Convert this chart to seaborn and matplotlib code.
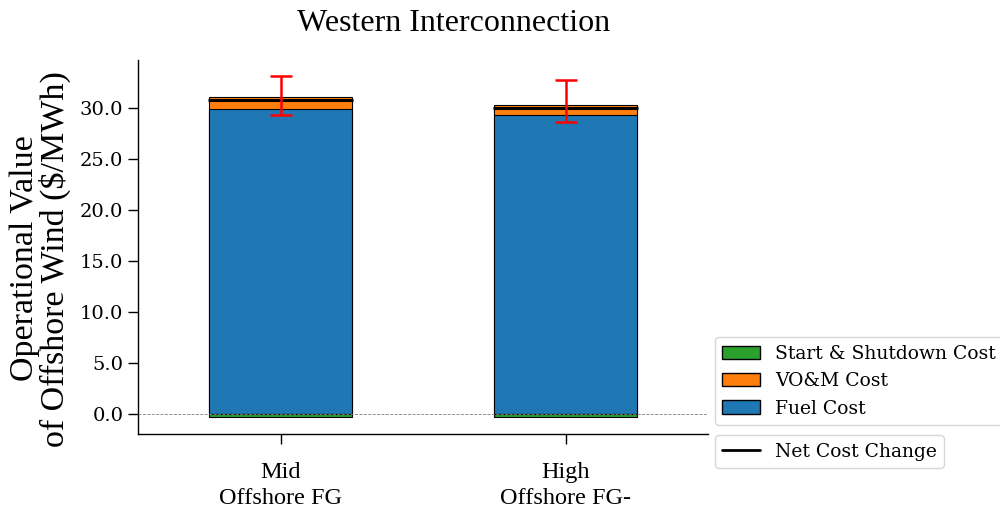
import matplotlib
matplotlib.use("Agg")
import matplotlib.pyplot as plt
import seaborn as sns
import pandas as pd
import numpy as np
from matplotlib.patches import Patch
from matplotlib.lines import Line2D

scenarios = ["Mid\nOffshore FG", "High\nOffshore FG-"]
fuel_cost = [29.9, 29.3]
vom_cost = [1.15, 1.0]
start_shutdown_cost = [-0.3, -0.3]
net_cost = [30.8, 30.0]
err_low = [29.3, 28.65]
err_high = [33.1, 32.7]

sns.set_style("ticks", rc={"text.color": "black", "axes.labelcolor": "black",
                           "xtick.color": "black", "ytick.color": "black",
                           "axes.edgecolor": "black"})
plt.rcParams["font.family"] = ["DejaVu Serif"]

fig = plt.figure(figsize=(10, 5.13), dpi=100)
ax = fig.add_axes([0.138, 0.154, 0.570, 0.729])

df = pd.DataFrame({
    "scenario": scenarios,
    "fuel": fuel_cost,
    "vom": vom_cost,
    "ss": start_shutdown_cost,
    "top": np.array(fuel_cost) + np.array(vom_cost),
})

c_fuel, c_vom, c_ss = "#1f77b4", "#ff7f0e", "#2ca02c"
bar_kw = dict(width=0.5, edgecolor="black", linewidth=0.8, ax=ax, order=scenarios)
sns.barplot(data=df, x="scenario", y="top", color=c_vom, saturation=1, **bar_kw)
sns.barplot(data=df, x="scenario", y="fuel", color=c_fuel, saturation=1, **bar_kw)
sns.barplot(data=df, x="scenario", y="ss", color=c_ss, saturation=1, **bar_kw)

xpos = np.arange(len(scenarios))
ax.hlines(net_cost, xpos - 0.255, xpos + 0.255, colors="black", linewidth=2.2, zorder=5)
mid = (np.array(err_low) + np.array(err_high)) / 2
yerr = [mid - np.array(err_low), np.array(err_high) - mid]
ax.errorbar(xpos, mid, yerr=yerr, fmt="none", ecolor="red", elinewidth=1.8,
            capsize=8, capthick=1.8, zorder=6)

ax.axhline(0, color="grey", linestyle="--", linewidth=0.6, zorder=4)
ax.set_xlim(-0.5, 1.5)
ax.set_ylim(-2, 34.7)
ax.set_yticks([0, 5, 10, 15, 20, 25, 30])
ax.set_yticklabels([f"{v:.1f}" for v in [0, 5, 10, 15, 20, 25, 30]])
ax.tick_params(axis="y", labelsize=14, length=7, width=1)
ax.tick_params(axis="x", length=7, width=1, pad=13)
for lab in ax.get_xticklabels():
    lab.set_fontfamily("Liberation Serif")
    lab.set_fontsize(17.5)
    lab.set_linespacing(1.33)
ax.set_xlabel("")
ax.set_ylabel("Operational Value\nof Offshore Wind ($/MWh)", fontsize=24.5,
              family="Liberation Serif", linespacing=0.97)
ax.yaxis.set_label_coords(-0.1175, 0.469)
sns.despine(ax=ax)
for s in ["left", "bottom"]:
    ax.spines[s].set_linewidth(1.0)

fig.text(0.4535, 0.94, "Western Interconnection", fontsize=23,
         family="Liberation Serif", ha="center", va="baseline")

handles1 = [Patch(facecolor=c_ss, edgecolor="black", label="Start & Shutdown Cost"),
            Patch(facecolor=c_vom, edgecolor="black", label="VO&M Cost"),
            Patch(facecolor=c_fuel, edgecolor="black", label="Fuel Cost")]
leg1 = ax.legend(handles=handles1, loc="lower left", bbox_to_anchor=(1.012, 0.024),
                 borderaxespad=0, fontsize=13.5, frameon=True, labelspacing=0.5)
ax.add_artist(leg1)
handles2 = [Line2D([0], [0], color="black", linewidth=2, label="Net Cost Change")]
ax.legend(handles=handles2, loc="upper left", bbox_to_anchor=(1.012, -0.003),
          borderaxespad=0, fontsize=13.5, frameon=True)

fig.savefig("out.png", dpi=100)
